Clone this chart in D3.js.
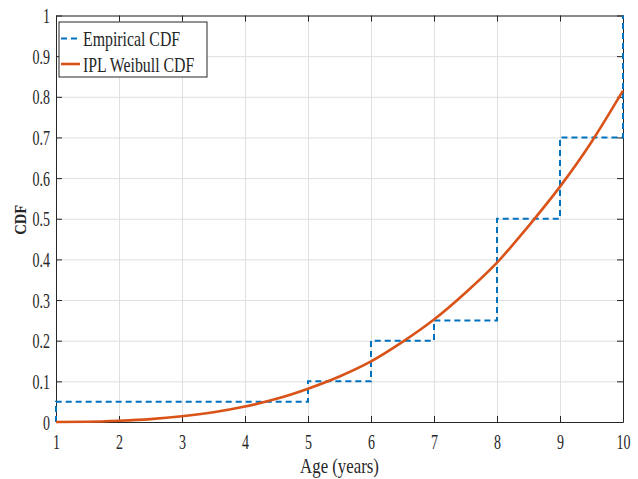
<!DOCTYPE html>
<html>
<head>
<meta charset="utf-8">
<script src="https://cdn.jsdelivr.net/npm/d3@7"></script>
<style>
  html, body { margin: 0; padding: 0; background: #fff; }
  svg { display: block; }
</style>
</head>
<body>
<svg id="chart" width="638" height="479"></svg>
<script>
// ---- data ----
const stepAges = [1, 1, 5, 6, 7, 8, 9, 10];
const stepCdf  = [0, 0.05, 0.1, 0.2, 0.25, 0.5, 0.7, 1.0];

const fitAges = [1, 1.5, 2, 2.5, 3, 3.5, 4, 4.5, 5, 5.5, 6, 6.5, 7, 7.5, 8, 8.5, 9, 9.5, 10];
const fitCdf  = [0, 0.0006, 0.003, 0.007, 0.014, 0.024, 0.038, 0.057, 0.082, 0.112, 0.149, 0.197, 0.252, 0.318, 0.392, 0.482, 0.579, 0.689, 0.815];

const xTicks = [1, 2, 3, 4, 5, 6, 7, 8, 9, 10];
const yTicks = [0, 0.1, 0.2, 0.3, 0.4, 0.5, 0.6, 0.7, 0.8, 0.9, 1];
const yTickLabels = ["0", "0.1", "0.2", "0.3", "0.4", "0.5", "0.6", "0.7", "0.8", "0.9", "1"];
const legendLabels = ["Empirical CDF", "IPL Weibull CDF"];
const xTitle = "Age (years)";
const yTitle = "CDF";

// ---- layout ----
const L = 56, R = 623, T = 15.5, B = 422;
const W = R - L, H = B - T;
const blue = "#0072BD", red = "#D95319", axisCol = "#262626";
const FONT = "'Liberation Serif', 'Times New Roman', serif";

const svg = d3.select("#chart");
const x = d3.scaleLinear().domain([1, 10]).range([L, R]);
const y = d3.scaleLinear().domain([0, 1]).range([B, T]);

// grid
const grid = svg.append("g");
grid.append("g").attr("transform", `translate(0,${B})`)
  .call(d3.axisBottom(x).tickValues(xTicks).tickSize(-H).tickFormat(""))
  .call(g => { g.select(".domain").remove(); g.selectAll("line").attr("stroke", "#dfdfdf").attr("stroke-width", 1); });
grid.append("g").attr("transform", `translate(${L},0)`)
  .call(d3.axisLeft(y).tickValues(yTicks).tickSize(-W).tickFormat(""))
  .call(g => { g.select(".domain").remove(); g.selectAll("line").attr("stroke", "#dfdfdf").attr("stroke-width", 1); });

// axes box and inward ticks
const tk = 6;
function styleAxis(g) {
  g.select(".domain").attr("stroke", axisCol).attr("stroke-width", 1);
  g.selectAll(".tick line").attr("stroke", axisCol).attr("stroke-width", 1);
}
const xb = svg.append("g").attr("transform", `translate(0,${B})`)
  .call(d3.axisBottom(x).tickValues(xTicks).tickSizeInner(-tk).tickSizeOuter(0).tickFormat(d3.format("d")))
  .call(styleAxis);
xb.selectAll(".tick text")
  .attr("y", 0).attr("dy", 0)
  .attr("transform", "translate(0,27) scale(0.7,1)")
  .attr("font-family", FONT).attr("font-size", 20).attr("fill", axisCol);

svg.append("g").attr("transform", `translate(0,${T})`)
  .call(d3.axisTop(x).tickValues(xTicks).tickSizeInner(-tk).tickSizeOuter(0).tickFormat(""))
  .call(styleAxis);

const yl = svg.append("g").attr("transform", `translate(${L},0)`)
  .call(d3.axisLeft(y).tickValues(yTicks).tickSizeInner(-tk).tickSizeOuter(0).tickFormat((d, i) => yTickLabels[i]))
  .call(styleAxis);
yl.selectAll(".tick text")
  .attr("x", 0).attr("dy", 0).attr("y", 0)
  .attr("transform", "translate(-6,7) scale(0.7,1)")
  .attr("text-anchor", "end")
  .attr("font-family", FONT).attr("font-size", 20).attr("fill", axisCol);

svg.append("g").attr("transform", `translate(${R},0)`)
  .call(d3.axisRight(y).tickValues(yTicks).tickSizeInner(-tk).tickSizeOuter(0).tickFormat(""))
  .call(styleAxis);

// titles
svg.append("text")
  .attr("transform", `translate(${(L + R) / 2},473) scale(0.84,1)`)
  .attr("text-anchor", "middle")
  .attr("font-family", FONT).attr("font-size", 20).attr("fill", axisCol)
  .text(xTitle);
svg.append("text")
  .attr("transform", `translate(26,${(T + B) / 2 + 1}) rotate(-90) scale(0.86,1)`)
  .attr("text-anchor", "middle")
  .attr("font-family", FONT).attr("font-size", 17).attr("font-weight", "bold").attr("fill", axisCol)
  .text(yTitle);

// empirical step
const stepData = stepAges.map((a, i) => [a, stepCdf[i]]);
svg.append("path")
  .datum(stepData)
  .attr("fill", "none").attr("stroke", blue).attr("stroke-width", 2)
  .attr("stroke-dasharray", "6,4")
  .attr("d", d3.line().x(d => x(d[0])).y(d => y(d[1])).curve(d3.curveStepAfter));

// fitted curve
const fitData = fitAges.map((a, i) => [a, fitCdf[i]]);
svg.append("path")
  .datum(fitData)
  .attr("fill", "none").attr("stroke", red).attr("stroke-width", 2.6)
  .attr("d", d3.line().x(d => x(d[0])).y(d => y(d[1])).curve(d3.curveMonotoneX));

// legend
const lg = svg.append("g");
lg.append("rect").attr("x", 59).attr("y", 22).attr("width", 148).attr("height", 55)
  .attr("fill", "#fff").attr("stroke", axisCol).attr("stroke-width", 1);
const rowsY = [38.5, 64];
const styles = [{c: blue, w: 2, dash: "6,4"}, {c: red, w: 2.6, dash: null}];
legendLabels.forEach((lab, i) => {
  lg.append("line").attr("x1", 61).attr("x2", 80).attr("y1", rowsY[i]).attr("y2", rowsY[i])
    .attr("stroke", styles[i].c).attr("stroke-width", styles[i].w)
    .attr("stroke-dasharray", styles[i].dash);
  lg.append("text")
    .attr("transform", `translate(83,${rowsY[i] + 7.5}) scale(0.72,1)`)
    .attr("font-family", FONT).attr("font-size", 22).attr("fill", axisCol)
    .text(lab);
});
</script>
</body>
</html>
